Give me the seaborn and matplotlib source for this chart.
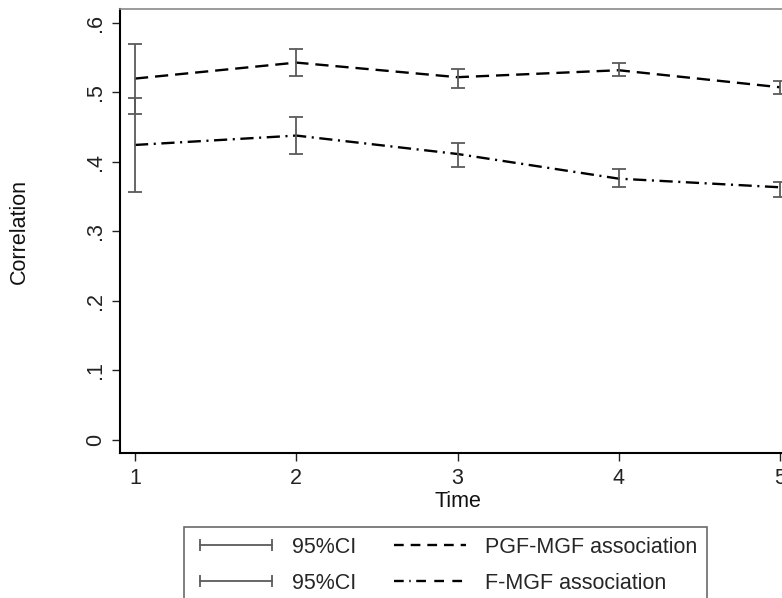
import numpy as np
import pandas as pd
import matplotlib
matplotlib.use("Agg")
import matplotlib.pyplot as plt
import seaborn as sns
from matplotlib.lines import Line2D

# --- data ---
time = [1, 2, 3, 4, 5]
pgf_mgf = [0.520, 0.543, 0.522, 0.532, 0.5075]
pgf_lo = [0.469, 0.523, 0.507, 0.523, 0.498]
pgf_hi = [0.570, 0.563, 0.534, 0.542, 0.516]
f_mgf = [0.4245, 0.438, 0.4115, 0.376, 0.3636]
f_lo = [0.357, 0.411, 0.393, 0.3636, 0.350]
f_hi = [0.4925, 0.465, 0.428, 0.390, 0.371]

y_ticks = [0, 0.1, 0.2, 0.3, 0.4, 0.5, 0.6]
y_labels = ["0", ".1", ".2", ".3", ".4", ".5", ".6"]

series_names = ["PGF-MGF association", "F-MGF association"]

df = pd.DataFrame({
    "time": time * 2,
    "corr": pgf_mgf + f_mgf,
    "series": [series_names[0]] * 5 + [series_names[1]] * 5,
})

sns.set_theme(style="white")
plt.rcParams["font.family"] = ["Liberation Sans", "DejaVu Sans"]
plt.rcParams["lines.scale_dashes"] = False

FS = 15.5

fig = plt.figure(figsize=(7.82, 5.98), dpi=100)
ax = fig.add_axes([120 / 782, 1 - 453 / 598, 675 / 782, 444 / 598])

dash_styles = {series_names[0]: (9.5, 5), series_names[1]: (9.5, 4, 1.5, 4)}
sns.lineplot(data=df, x="time", y="corr", style="series", dashes=dash_styles,
             color="black", linewidth=1.7, legend=False, ax=ax)

ci_color = "#5a5a5a"
for mean, lo, hi in [(pgf_mgf, pgf_lo, pgf_hi), (f_mgf, f_lo, f_hi)]:
    mean = np.array(mean)
    err = [mean - np.array(lo), np.array(hi) - mean]
    ax.errorbar(time, mean, yerr=err, fmt="none", ecolor=ci_color,
                elinewidth=1.3, capsize=5, capthick=1.3)

ax.set_xlim(0.907, 5.093)
ax.set_ylim(-0.0187, 0.6201)
ax.set_xticks(time)
ax.set_yticks(y_ticks)
ax.set_yticklabels(y_labels, rotation=90, va="center")

ax.tick_params(axis="both", direction="out", length=6, width=1, colors="#222222",
               labelsize=FS, pad=4, left=True, bottom=True)
ax.tick_params(axis="x", pad=5)

for side in ["left", "bottom"]:
    ax.spines[side].set_color("black")
    ax.spines[side].set_linewidth(1.5)
ax.spines["top"].set_color("#8a8a8a")
ax.spines["top"].set_linewidth(1.2)
ax.spines["right"].set_visible(False)

ax.set_xlabel("Time", fontsize=FS, labelpad=1.5, color="#111111")
ax.set_ylabel("Correlation", fontsize=FS, color="#111111")
ax.yaxis.set_label_coords(-0.133, 0.5)

ci_handle = Line2D([0], [0], color=ci_color, linewidth=1.3, marker="|",
                   markersize=9, markeredgewidth=1.3)
pgf_handle = Line2D([0], [0], color="black", linewidth=1.7, dashes=(7, 5))
f_handle = Line2D([0], [0], color="black", linewidth=1.7,
                  dashes=(7, 4, 1, 4, 7, 6, 7, 6))

leg = fig.legend([ci_handle, ci_handle, pgf_handle, f_handle],
                 ["95%CI", "95%CI", series_names[0], series_names[1]],
                 ncol=2, loc="upper left", bbox_to_anchor=(184 / 782, 1 - 527 / 598),
                 fontsize=FS, numpoints=2, handlelength=3.95, handletextpad=0.6,
                 columnspacing=1.45, labelspacing=0.7, borderpad=0.45,
                 frameon=True, fancybox=False, framealpha=1, borderaxespad=0)
leg.get_frame().set_edgecolor("#6a6a6a")
leg.get_frame().set_linewidth(1.2)

fig.savefig("out.png", dpi=100)
